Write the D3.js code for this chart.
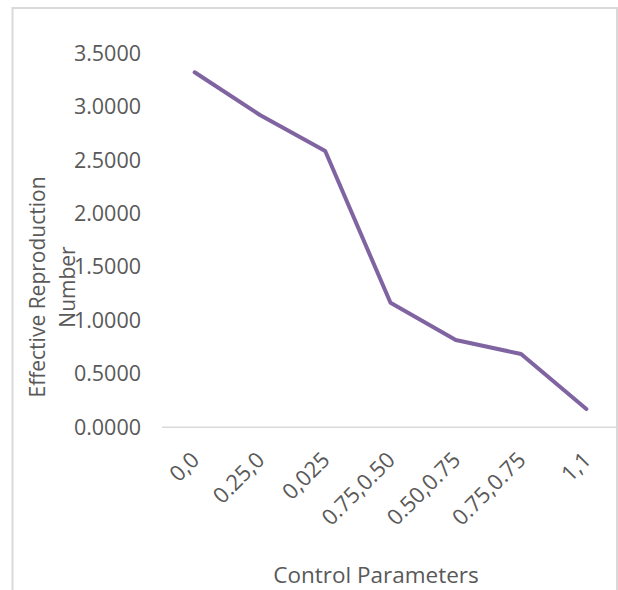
<!DOCTYPE html>
<html>
<head>
<meta charset="utf-8">
<script src="https://cdn.jsdelivr.net/npm/d3@7"></script>
<style>
  html, body { margin: 0; padding: 0; background: #fff; }
  svg { display: block; }
  text { font-family: "Open Sans", "Noto Sans", sans-serif; fill: #595959; }
</style>
</head>
<body>
<svg id="chart" width="618" height="590"></svg>
<script>
// Control parameter combinations and the resulting effective reproduction number
const categories = ["0,0", "0.25,0", "0,025", "0.75,0.50", "0.50,0.75", "0.75,0.75", "1,1"];
const rValues = [3.324, 2.924, 2.587, 1.166, 0.817, 0.686, 0.171];
const yTicks = [0, 0.5, 1, 1.5, 2, 2.5, 3, 3.5];

const svg = d3.select("#chart");

// chart frame
svg.append("rect")
  .attr("x", 12.5).attr("y", 8)
  .attr("width", 604.5).attr("height", 620)
  .attr("fill", "none")
  .attr("stroke", "#d9d9d9")
  .attr("stroke-width", 2);

const plot = { left: 162, right: 619, top: 53.5, bottom: 427.3 };

const x = d3.scaleBand().domain(categories).range([plot.left, plot.right]);
const y = d3.scaleLinear().domain([0, 3.5]).range([plot.bottom, plot.top]);

// y axis labels
const yAxis = d3.axisLeft(y).tickValues(yTicks).tickFormat(d3.format(".4f")).tickSize(0).tickPadding(0);
const gy = svg.append("g").attr("transform", `translate(141,0)`).call(yAxis);
gy.select(".domain").remove();
gy.selectAll("text").attr("font-size", 21.5).attr("fill", "#595959")
  .style("font-family", '"Open Sans", sans-serif');

// x axis
const xAxis = d3.axisBottom(x).tickSize(0).tickPadding(0);
const gx = svg.append("g").attr("transform", `translate(0,${plot.bottom})`).call(xAxis);
gx.select(".domain").attr("stroke", "#d9d9d9").attr("stroke-width", 1.5)
  .attr("d", `M${plot.left},0H${plot.right}`);
gx.selectAll("text")
  .attr("font-size", 22).attr("fill", "#595959")
  .style("font-family", '"Open Sans", sans-serif')
  .attr("text-anchor", "end")
  .attr("dy", null)
  .attr("y", 0)
  .attr("transform", "translate(6,34) rotate(-45)");

// line
const line = d3.line()
  .x((d, i) => x(categories[i]) + x.bandwidth() / 2)
  .y(d => y(d));
svg.append("path")
  .datum(rValues)
  .attr("d", line)
  .attr("fill", "none")
  .attr("stroke", "#8064a2")
  .attr("stroke-width", 4)
  .attr("stroke-linejoin", "round")
  .attr("stroke-linecap", "round");

// axis titles
svg.append("text")
  .attr("x", 376).attr("y", 583)
  .attr("text-anchor", "middle")
  .attr("font-size", 22.5)
  .text("Control Parameters");

const yt = svg.append("text")
  .attr("transform", "translate(0,287) rotate(-90)")
  .attr("text-anchor", "middle")
  .attr("font-size", 21);
yt.append("tspan").attr("x", 0).attr("y", 45).text("Effective Reproduction");
yt.append("tspan").attr("x", 0).attr("y", 75).text("Number");
</script>
</body>
</html>
